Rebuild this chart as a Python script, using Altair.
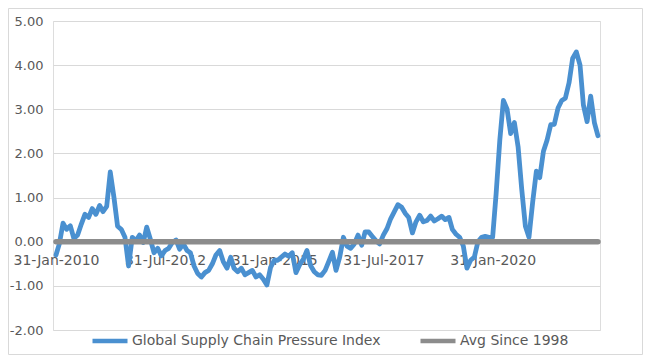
import calendar
import altair as alt
import pandas as pd

# ---- data ----
start_year = 2010
series_names = ["Global Supply Chain Pressure Index", "Avg Since 1998"]
series_colors = ["#4a90d0", "#8c8c8c"]

gscpi = [
    -0.30, -0.05, 0.42, 0.28, 0.36, 0.07, 0.15, 0.40, 0.62, 0.55,
    0.75, 0.62, 0.82, 0.68, 0.80, 1.58, 1.00, 0.35, 0.28, 0.10,
    -0.55, 0.10, 0.02, 0.15, -0.02, 0.33, 0.05, -0.25, -0.15, -0.32,
    -0.20, -0.15, -0.02, 0.04, -0.17, -0.05, -0.20, -0.25, -0.55, -0.72,
    -0.80, -0.70, -0.65, -0.50, -0.30, -0.20, -0.45, -0.60, -0.35, -0.60,
    -0.68, -0.60, -0.75, -0.70, -0.65, -0.80, -0.75, -0.85, -0.98, -0.58,
    -0.42, -0.42, -0.35, -0.28, -0.33, -0.25, -0.70, -0.52, -0.40, -0.20,
    -0.54, -0.68, -0.75, -0.76, -0.65, -0.45, -0.24, -0.65, -0.35, 0.10,
    -0.10, -0.15, -0.05, 0.15, -0.08, 0.22, 0.22, 0.12, 0.02, -0.05,
    0.15, 0.30, 0.52, 0.68, 0.84, 0.78, 0.64, 0.55, 0.20, 0.45,
    0.60, 0.45, 0.48, 0.58, 0.47, 0.52, 0.58, 0.50, 0.55, 0.28,
    0.17, 0.10, -0.10, -0.60, -0.42, -0.35, 0.00, 0.10, 0.12, 0.10,
    0.10, 1.08, 2.30, 3.20, 3.00, 2.45, 2.70, 2.15, 1.20, 0.35,
    0.10, 0.90, 1.60, 1.45, 2.05, 2.30, 2.65, 2.66, 3.03, 3.20,
    3.25, 3.60, 4.15, 4.30, 4.00, 3.10, 2.72, 3.30, 2.70, 2.40,
]
avg_since_1998 = 0.0

y_ticks = [-2, -1, 0, 1, 2, 3, 4, 5]
x_tick_dates = [(2010, 1, 31), (2012, 7, 31), (2015, 1, 31), (2017, 7, 31), (2020, 1, 31)]

# month-end dates (local-time strings)
dates = []
for i in range(len(gscpi)):
    y = start_year + i // 12
    m = i % 12 + 1
    d = calendar.monthrange(y, m)[1]
    dates.append(f"{y:04d}/{m:02d}/{d:02d}")

df_main = pd.DataFrame({"date": dates, "value": gscpi, "series": series_names[0]})
df_avg = pd.DataFrame({"date": dates, "value": [avg_since_1998] * len(dates), "series": series_names[1]})

FONT = "DejaVu Sans"
TXT = "#595959"

x_scale = alt.Scale(domain=[alt.DateTime(year=2010, month=1, date=6),
                            alt.DateTime(year=2022, month=7, date=17)])
y_scale = alt.Scale(domain=[-2, 5], nice=False)
color_scale = alt.Scale(domain=series_names, range=series_colors)

x_enc = alt.X(
    "date:T", scale=x_scale, title=None,
    axis=alt.Axis(
        values=[alt.DateTime(year=a, month=b, date=c) for a, b, c in x_tick_dates],
        format="%d-%b-%Y", offset=-89, domain=False, ticks=False, grid=False,
        labelPadding=12, labelFont=FONT, labelFontSize=14, labelColor=TXT,
        labelOverlap=False,
    ),
)
y_enc = alt.Y(
    "value:Q", scale=y_scale, title=None,
    axis=alt.Axis(
        values=y_ticks, domain=False, ticks=False, grid=True, gridColor="#d9d9d9",
        labelExpr="(datum.value < 0 ? '-' : '') + format(abs(datum.value), '.2f')",
        labelPadding=10, labelFont=FONT, labelFontSize=13, labelColor=TXT,
    ),
)
legend = alt.Legend(
    title=None, orient="none", legendX=37, legendY=300, direction="horizontal",
    symbolType="stroke", symbolSize=1225, symbolStrokeWidth=4.5,
    labelFont=FONT, labelFontSize=14, labelColor=TXT, labelLimit=400,
    labelOffset=2, columnPadding=30, padding=0,
)

blue = alt.Chart(df_main).mark_line(strokeWidth=4.8, strokeCap="round", strokeJoin="round").encode(
    x=x_enc, y=y_enc, color=alt.Color("series:N", scale=color_scale, legend=legend)
)
gray = alt.Chart(df_avg).mark_line(strokeWidth=5.5, strokeCap="round").encode(
    x=alt.X("date:T", scale=x_scale), y=alt.Y("value:Q", scale=y_scale),
    color=alt.Color("series:N", scale=color_scale, legend=legend),
)
frame = alt.Chart(pd.DataFrame({"a": [0]})).mark_rect(fill=None, stroke="#d9d9d9", strokeWidth=1).encode(
    x=alt.value(-44.5), x2=alt.value(589.5), y=alt.value(-12.5), y2=alt.value(333.5)
)

chart = alt.layer(frame, blue, gray).properties(
    width=547, height=309,
    autosize=alt.AutoSizeParams(type="none"),
    padding={"left": 45, "top": 13, "right": 43, "bottom": 25},
).configure_view(strokeWidth=0).configure(background="white")

chart.save("out.html", embed_options={"renderer": "svg", "actions": False})
